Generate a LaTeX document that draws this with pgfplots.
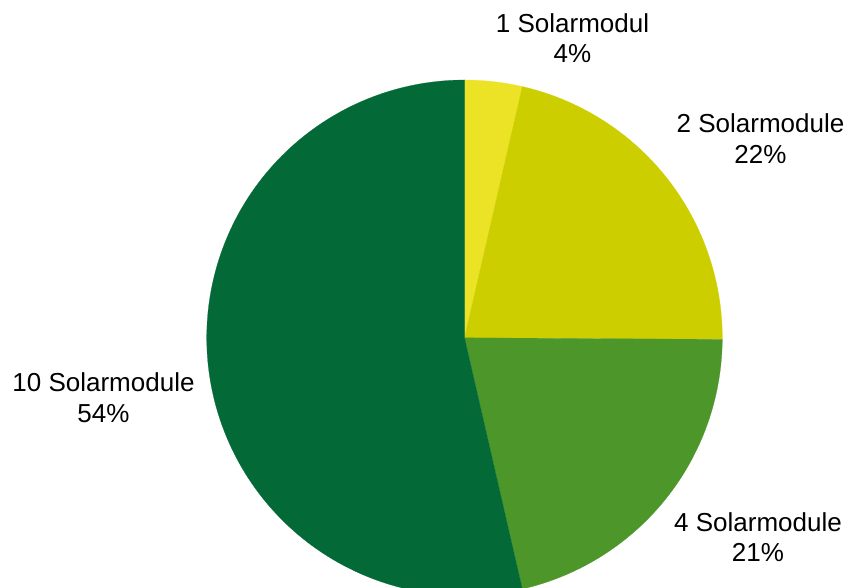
\documentclass[border=0pt]{standalone}
\usepackage{pgfplots}
\pgfplotsset{compat=1.18}
\usepackage{fontspec}
\setmainfont{Liberation Sans}
\definecolor{cA}{RGB}{236,226,38}
\definecolor{cB}{RGB}{205,206,0}
\definecolor{cC}{RGB}{76,150,42}
\definecolor{cD}{RGB}{3,105,55}
% pie centre and radius in pixel units (y measured upward)
\def\cx{464.5}
\def\cy{250.2}
\def\pieR{257.8}
% slice from cumulative percent #1 to #2, clockwise from top
\newcommand\slice[3]{%
  \addplot[fill=#3, draw=#3, line width=0.2pt, domain=#1*3.6:#2*3.6, samples=150, variable=\t]
    ({\cx+\pieR*sin(\t)},{\cy+\pieR*cos(\t)}) -- (axis cs:\cx,\cy) -- cycle;}
\begin{document}
\begin{tikzpicture}
\begin{axis}[
  at={(0,0)}, anchor=south west,
  width=848pt, height=588pt, scale only axis,
  xmin=0, xmax=848, ymin=0, ymax=588,
  hide axis, clip=true,
]
% values (percent): 1 Solarmodul 3.6, 2 Solarmodule 21.5, 4 Solarmodule 21.3, 10 Solarmodule 53.6
\slice{0}{3.6}{cA}
\slice{3.6}{25.1}{cB}
\slice{25.1}{46.4}{cC}
\slice{46.4}{100}{cD}
\end{axis}
\begin{scope}[font=\fontsize{26pt}{31pt}\selectfont]
\node[anchor=base, inner sep=0pt] at (572.5pt,555pt) {1 Solarmodul};
\node[anchor=base, inner sep=0pt] at (572.5pt,525pt) {4\%};
\node[anchor=base, inner sep=0pt] at (760.5pt,455pt) {2 Solarmodule};
\node[anchor=base, inner sep=0pt] at (760.5pt,424pt) {22\%};
\node[anchor=base, inner sep=0pt] at (758pt,56pt) {4 Solarmodule};
\node[anchor=base, inner sep=0pt] at (758pt,26pt) {21\%};
\node[anchor=base, inner sep=0pt] at (103.5pt,196pt) {10 Solarmodule};
\node[anchor=base, inner sep=0pt] at (103.5pt,165pt) {54\%};
\end{scope}
\pgfresetboundingbox
\path[use as bounding box] (0,0) rectangle (848pt,588pt);
\end{tikzpicture}
\end{document}
